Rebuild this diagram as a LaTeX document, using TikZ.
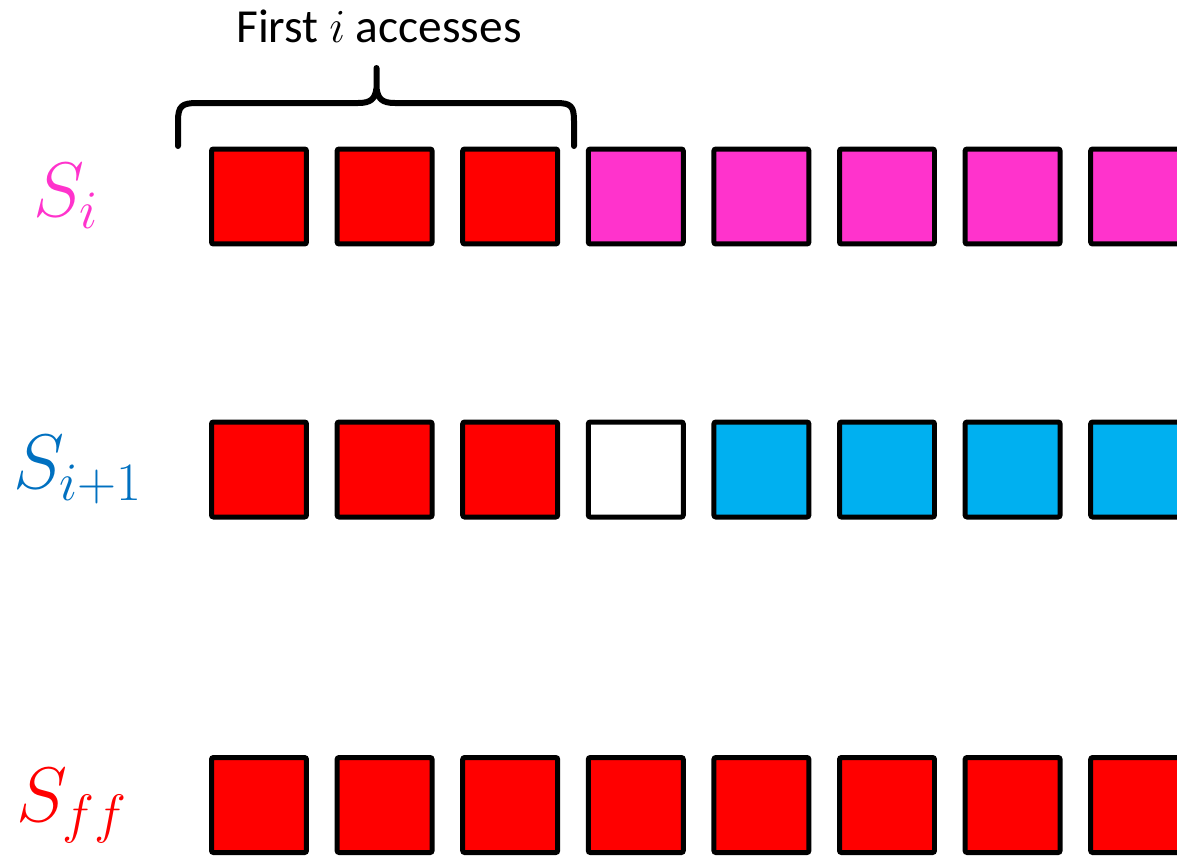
\RequirePackage{fix-cm}
\documentclass[tikz,border=0pt]{standalone}
\usepackage{fontspec}
\setmainfont{Carlito}
\usepackage{tikz}
\usetikzlibrary{positioning, calc}
\definecolor{cRed}{HTML}{FF0000}
\definecolor{cPink}{HTML}{FF33CC}
\definecolor{cSky}{HTML}{00B0F0}
\definecolor{cBlue}{HTML}{0070C0}
\tikzset{
    cell/.style={rectangle, draw=black, line width=0.1cm, rounded corners=0.04cm, minimum size=1.9cm, inner sep=0pt},
    hit/.style={cell, fill=cRed},
    old/.style={cell, fill=cPink},
    new/.style={cell, fill=cSky},
    gap/.style={cell, fill=white},
    rowlab/.style={font=\fontsize{44}{50}\selectfont}
}
\begin{document}
\begin{tikzpicture}[x=0.02cm, y=-0.02cm, line width=0.02cm]
  \useasboundingbox (0,0) rectangle (1177,863);

  % row labels
  \node (lab-si)  [rowlab, text=cPink] at (66,196) {$S_i$};
  \node (lab-sip) [rowlab, text=cBlue] at (78,470) {$S_{i+1}$};
  \node (lab-sff) [rowlab, text=cRed]  at (72,806) {$S_{ff}$};

  % S_i
  \foreach \k in {0,1,2}
    \node (si-\k) [hit] at ({259+125.6*\k},196.5) {};
  \foreach \k in {3,...,7}
    \node (si-\k) [old] at ({259+125.6*\k},196.5) {};

  % S_{i+1}
  \foreach \k in {0,1,2}
    \node (sip-\k) [hit] at ({259+125.6*\k},469.5) {};
  \node (sip-3) [gap] at ({259+125.6*3},469.5) {};
  \foreach \k in {4,...,7}
    \node (sip-\k) [new] at ({259+125.6*\k},469.5) {};

  % S_ff
  \foreach \k in {0,...,7}
    \node (sff-\k) [hit] at ({259+125.6*\k},805) {};

  % brace over the first three
  \draw [line width=0.12cm, line join=round, line cap=round]
    (178,146) -- (178,121) .. controls (178,106) and (182,103) .. (197,103)
    -- (358,103) .. controls (371,103) and (375,99) .. (376.5,88) -- (376.5,68)
    -- (376.5,88) .. controls (378,99) and (382,103) .. (395,103)
    -- (556,103) .. controls (571,103) and (574,106) .. (574,121) -- (574,146);
  \node (cap) [font=\fontsize{27}{32}\selectfont] at (379,26) {First $i$ accesses};
\end{tikzpicture}
\end{document}
